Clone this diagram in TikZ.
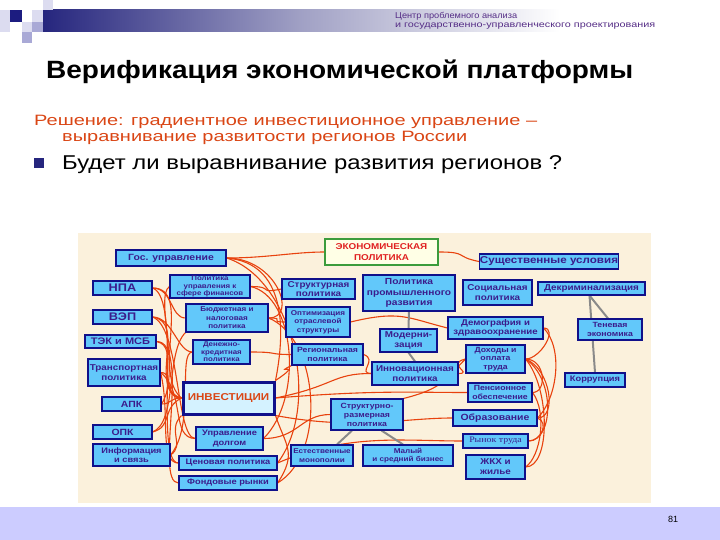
\documentclass[tikz,border=0pt]{standalone}
\usepackage{fontspec}
\setmainfont{Liberation Sans}[FakeStretch=1.16]
\newfontfamily\serifrm{Liberation Serif}[FakeStretch=1.16]
\newfontfamily\plainsans{Liberation Sans}
\usepackage{graphicx}
\definecolor{bnavy}{HTML}{10108A}
\definecolor{bfill}{HTML}{62C8FA}
\definecolor{btext}{HTML}{3B1C8C}
\definecolor{rline}{HTML}{E8420E}
\definecolor{gline}{HTML}{8A8A8A}
\definecolor{beige}{HTML}{FBF1DC}
\definecolor{hdrtxt}{HTML}{552D86}
\definecolor{solred}{HTML}{DA4615}
\definecolor{barnavy}{HTML}{26267E}
\definecolor{lav1}{HTML}{DCDCF0}
\definecolor{lav2}{HTML}{A9A9D6}
\definecolor{sqdark}{HTML}{1C1C80}
\definecolor{botbar}{HTML}{CCCCFF}
\definecolor{ekgreen}{HTML}{3C9C3C}
\definecolor{ekfill}{HTML}{FFFFE6}
\definecolor{ekred}{HTML}{E02020}
\definecolor{invfill}{HTML}{D4F2FF}
\pgfdeclarelayer{back}
\pgfdeclarelayer{lines}
\pgfsetlayers{back,lines,main}
\newcommand\mybox[8][]{\node[box,minimum width=#4pt,minimum height=#5pt,font=\bfseries\fontsize{#6}{#7}\selectfont,#1] (#2) at (#3) {#8};}
\begin{document}
\begin{tikzpicture}[x=1pt,y=-1pt,
  box/.style={draw=bnavy,fill=bfill,line width=1.1pt,inner sep=0.5pt,align=center,text=btext},
  rl/.style={draw=rline,line width=1.1pt},
  gl/.style={draw=gline,line width=2pt}]
\useasboundingbox (0,0) rectangle (720,540);
\begin{pgfonlayer}{back}
\fill[white] (0,0) rectangle (720,540);
\fill[beige] (78,233) rectangle (651,503);
\end{pgfonlayer}
% header decoration
\shade[left color=barnavy,right color=white,middle color=lav2!80!gray] (43,10) rectangle (560,32);
\fill[lav1] (0,10) rectangle (10,32);
\fill[sqdark] (10,10) rectangle (22,22);
\fill[lav1] (32,10) rectangle (43,22);
\fill[lav1] (43,0) rectangle (53,10);
\fill[lav1] (22,22) rectangle (32,32);
\fill[lav2] (32,22) rectangle (43,32);
\fill[lav2] (22,32) rectangle (32,43);
\node[anchor=base west,inner sep=0,text=hdrtxt,font=\fontsize{8.5}{9}\selectfont] (h1) at (395,19) {\resizebox{122pt}{\height}{Центр проблемного анализа}};
\node[anchor=base west,inner sep=0,text=hdrtxt,font=\fontsize{8.5}{9}\selectfont] (h2) at (395,28) {\resizebox{260pt}{\height}{и государственно-управленческого проектирования}};
% title and text
\node[anchor=base west,inner sep=0,font=\bfseries\fontsize{25}{28}\selectfont] (title) at (46,79) {\resizebox{587pt}{\height}{Верификация экономической платформы}};
\node[anchor=base west,inner sep=0,text=solred,font=\fontsize{15}{17}\selectfont] (l1) at (34,126) {\resizebox{503pt}{\height}{Решение: градиентное инвестиционное управление –}};
\node[anchor=base west,inner sep=0,text=solred,font=\fontsize{15}{17}\selectfont] (l2) at (62,142) {\resizebox{405pt}{\height}{выравнивание развитости регионов России}};
\fill[barnavy] (34,158) rectangle (44,168);
\node[anchor=base west,inner sep=0,font=\fontsize{20}{22}\selectfont] (l3) at (62,170) {\resizebox{500pt}{\height}{Будет ли выравнивание развития регионов ?}};
% bottom bar
\fill[botbar] (0,507) rectangle (720,540);
\node[anchor=base,inner sep=0,font=\plainsans\fontsize{9}{10}\selectfont] (pnum) at (673,522) {81};
% boxes
\mybox{gos}{171,258}{110}{16}{9}{10}{Гос. управление}
\mybox{npa}{122.5,288}{59}{14}{11}{12}{НПА}
\mybox{vep}{122.5,317}{59}{14}{11}{12}{ВЭП}
\mybox{tek}{120.5,341.5}{71}{13}{9.5}{10}{ТЭК и МСБ}
\mybox{trans}{124,372.5}{72}{27}{8.5}{10}{Транспортная\\политика}
\mybox{apk}{131.5,404}{59}{14}{9}{10}{АПК}
\mybox{opk}{122.5,432}{59}{14}{9}{10}{ОПК}
\mybox{info}{131.5,455}{77}{22}{8}{9.5}{Информация\\и связь}
\mybox{polfin}{210,286.5}{80}{23}{6.8}{7.4}{Политика\\управления к\\сфере финансов}
\mybox{budget}{227,318}{82}{28}{7}{8.4}{Бюджетная и\\налоговая\\политика}
\mybox{dkp}{221.5,352}{57}{24}{6.8}{7.5}{Денежно-\\кредитная\\политика}
\node[draw=bnavy,fill=invfill,line width=3pt,minimum width=91pt,minimum height=32pt,inner sep=0,text=solred,font=\bfseries\fontsize{10}{11}\selectfont] (inv) at (228.5,398) {ИНВЕСТИЦИИ};
\mybox{upd}{229.5,438.5}{67}{23}{8}{9.5}{Управление\\долгом}
\mybox{cen}{228,463}{98}{14}{8}{9}{Ценовая политика}
\mybox{fond}{228,483}{98}{14}{8}{9}{Фондовые рынки}
\node[draw=ekgreen,fill=ekfill,line width=1.3pt,minimum width=113pt,minimum height=26pt,inner sep=0,align=center,text=ekred,font=\bfseries\fontsize{8.5}{10.5}\selectfont] (ekpol) at (381.5,252) {ЭКОНОМИЧЕСКАЯ\\ПОЛИТИКА};
\mybox{struct}{318.5,289}{73}{20}{8.5}{9.5}{Структурная\\политика}
\mybox{ppr}{409,293}{92}{36}{8.8}{10.8}{Политика\\промышленного\\развития}
\mybox{optim}{318,322}{64}{30}{7}{8.6}{Оптимизация\\отраслевой\\структуры}
\mybox{modern}{408.5,340.5}{57}{23}{8.5}{10}{Модерни-\\зация}
\mybox{region}{327.5,354.5}{71}{21}{7.5}{8.6}{Региональная\\политика}
\mybox{innov}{415,373.5}{86}{23}{8.5}{10}{Инновационная\\политика}
\mybox{strrazm}{367,414.5}{72}{31}{7.5}{9}{Структурно-\\размерная\\политика}
\mybox{estmon}{322,455.5}{62}{21}{7}{8.5}{Естественные\\монополии}
\mybox{msb}{408,455.5}{90}{21}{7}{8.5}{Малый\\и средний бизнес}
\mybox{sush}{549,261.5}{136}{15}{10}{11}{Существенные условия}
\mybox{soc}{497.5,292.5}{69}{25}{8.5}{10}{Социальная\\политика}
\mybox{dekrim}{591.5,288.5}{107}{13}{8.5}{9}{Декриминализация}
\mybox{demo}{495.5,328}{95}{22}{8.3}{9.6}{Демография и\\здравоохранение}
\mybox{ten}{610,329.5}{64}{21}{7.5}{9}{Теневая\\экономика}
\mybox{doh}{495.5,359}{59}{28}{7.5}{8.6}{Доходы и\\оплата\\труда}
\mybox{korr}{595,380}{60}{14}{8}{9}{Коррупция}
\mybox{pens}{500,392.5}{64}{19}{7.5}{8.2}{Пенсионное\\обеспечение}
\mybox{obr}{495,418}{84}{16}{9}{10}{Образование}
\node[box,minimum width=65pt,minimum height=14pt,font=\serifrm\fontsize{8.5}{9}\selectfont] (rynok) at (495.5,441) {Рынок труда};
\mybox{zhkh}{495.5,467}{59}{24}{8.5}{10}{ЖКХ и\\жилье}
% connectors
\begin{pgfonlayer}{lines}
\foreach \a/\b/\ca/\cb/\da/\db in {
  npa.east/inv.west/40/0/-30/-25,
  vep.east/inv.west/35/5/-35/-10,
  tek.east/inv.west/25/5/-30/-5,
  trans.east/inv.west/15/0/-20/0,
  apk.east/inv.west/10/0/-12/0,
  opk.east/inv.west/20/-5/-20/10,
  info.east/inv.south west/15/-10/-15/15,
  npa.east/cen.west/30/10/-25/0,
  vep.east/upd.west/28/10/-20/0,
  tek.east/fond.west/35/0/-25/0,
  npa.east/budget.west/20/0/-15/0,
  vep.east/dkp.west/20/0/-15/0,
  opk.east/budget.south west/25/-10/-20/20,
  info.east/dkp.west/25/-30/-15/0,
  apk.east/polfin.west/20/-30/-15/10,
  trans.east/upd.west/25/20/-25/0,
  trans.east/cen.west/10/40/-20/0,
  gos.east/ekpol.west/40/0/-30/0,
  gos.east/inv.north east/60/5/10/-50,
  gos.east/budget.east/50/0/30/0,
  gos.east/cen.east/65/20/45/-60,
  polfin.east/upd.east/45/10/40/-40,
  budget.east/fond.east/50/20/50/-30,
  polfin.east/struct.west/25/0/-25/5,
  budget.east/optim.west/20/0/-20/0,
  dkp.east/region.west/30/0/-25/0,
  optim.east/demo.west/50/-12/-40/-10,
  inv.east/innov.west/60/-12/-40/0,
  inv.east/pens.west/100/-8/-60/0,
  inv.north east/region.south west/30/-20/-20/10,
  inv.south east/obr.west/80/15/-50/0,
  upd.east/strrazm.west/35/0/-30/0,
  cen.east/rynok.west/70/-30/-60/0,
  fond.east/inv.south east/20/-30/10/30,
  region.east/innov.west/15/5/-15/0,
  ekpol.east/sush.west/30/0/-25/-5,
  innov.east/doh.west/15/0/-20/5,
  demo.east/doh.east/15/0/15/0,
  doh.east/pens.east/20/0/15/0,
  doh.east/obr.east/25/10/20/0,
  doh.east/rynok.east/30/20/25/0,
  doh.east/zhkh.east/25/30/25/0,
  pens.east/zhkh.east/15/20/15/-10,
  obr.east/rynok.east/12/5/12/0,
  demo.east/obr.east/20/20/20/-20,
  doh.west/strrazm.north east/-20/20/40/-10}
  \draw[rl] (\a) .. controls +(\ca,\cb) and +(\da,\db) .. (\b);
\draw[gl] (ppr.south) -- (modern.north);
\draw[gl] (modern.south) -- (innov.north);
\coordinate (dk) at ([xshift=-2pt]dekrim.south);
\draw[gl] (dk) -- ([xshift=-2pt]ten.north);
\draw[gl] (dk) -- (korr.north);
\draw[gl] ([xshift=-15pt]strrazm.south) -- ([xshift=15pt]estmon.north);
\draw[gl] ([xshift=-22pt]strrazm.south east) -- ([xshift=-5pt]msb.north);
\end{pgfonlayer}
\end{tikzpicture}
\end{document}
